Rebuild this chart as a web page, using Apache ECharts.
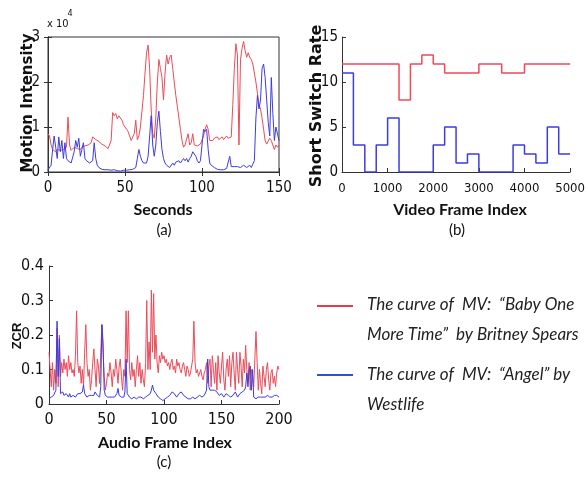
<!DOCTYPE html>
<html>
<head>
<meta charset="utf-8">
<script src="https://cdn.jsdelivr.net/npm/echarts@6/dist/echarts.min.js"></script>
<style>
  html, body { margin: 0; padding: 0; background: #fff; }
  #chart { width: 588px; height: 477px; }
</style>
</head>
<body>
<div id="chart"></div>
<script>
// (a) motion intensity, x 10^4, one value per second 0..150
var motionRed = [
  .85,.80,.60,.50,.48,.45,.50,.46,.48,.45,
  .50,.47,.55,1.22,.60,.48,.50,.55,.58,.52,
  .55,.50,.55,.52,.58,.55,.60,.58,.65,.78,
  .80,.72,.70,.68,.65,.62,.60,.58,.55,.52,
  .50,.70,1.32,1.25,1.30,1.18,1.25,1.22,1.15,1.05,
  1.00,.95,.90,.80,.70,.68,.85,1.15,.72,.80,
  1.00,1.35,1.70,2.20,2.65,2.82,2.30,1.40,.85,.75,
  1.20,2.00,2.50,2.30,2.10,1.60,2.20,2.60,2.40,2.55,
  2.60,2.30,2.00,1.70,1.45,1.20,.95,.70,.55,.60,
  .62,.85,.60,.65,.85,.60,.62,.58,.60,.62,
  .60,.80,.95,1.05,.95,.70,.68,.70,.75,.72,
  .78,.72,.75,.78,.72,.75,.80,.75,.72,.78,
  1.50,2.30,2.85,2.60,.60,2.50,2.75,2.90,2.70,2.55,
  2.65,2.55,2.50,2.40,2.20,2.00,1.75,1.50,1.40,1.20,
  .95,.70,.62,.65,.75,.70,.60,.50,.60,.55,
  .60
];
var motionBlue = [
  .05,.05,.15,.50,.80,.55,.30,.78,.45,.70,
  .30,.65,.30,.25,.22,.20,.22,.45,.70,.55,
  .75,.35,.50,.65,.30,.25,.22,.20,.18,.25,
  .65,.30,.15,.10,.08,.06,.05,.05,.04,.05,
  .05,.04,.05,.05,.04,.03,.02,.02,.03,.04,
  .05,.04,.05,.05,.06,.06,.08,.10,.30,.50,
  .35,.25,.20,.18,.20,.35,.80,1.25,.60,.35,
  .60,1.10,1.35,.90,.50,.30,.20,.15,.12,.10,
  .12,.20,.15,.22,.18,.25,.20,.25,.30,.25,
  .30,.22,.30,.35,.45,.42,.35,.25,.20,.25,
  .60,.95,.90,.95,.50,.20,.15,.12,.10,.08,
  .06,.05,.05,.06,.05,.06,.08,.10,.35,.12,
  .10,.12,.10,.12,.12,.10,.12,.15,.12,.10,
  .12,.15,.10,.08,.25,1.20,1.70,1.40,1.60,2.30,
  2.40,2.10,1.60,1.10,.80,2.10,1.30,.70,1.00,1.00,
  .70
];

// (b) short switch rate, steps start at these frame indices
var switchFrames = [0,250,500,750,1000,1250,1500,1750,2000,2250,2500,2750,3000,3250,3500,3750,4000,4250,4500,4750,5000];
var switchRed  = [12,12,12,12,12,8,12,13,12,11,11,11,12,12,11,11,12,12,12,12,12];
var switchBlue = [11,3,0,3,6,0,0,0,3,5,1,2,0,0,0,3,2,1,5,2,2];

// (c) ZCR, one value per audio frame 0..200
var zcrRed = [
  .15,.10,.05,.12,.04,.10,.06,.22,.05,.20,
  .08,.12,.09,.13,.10,.12,.08,.14,.10,.12,
  .09,.10,.08,.14,.27,.12,.09,.11,.06,.10,
  .05,.15,.23,.12,.08,.10,.04,.07,.12,.16,
  .10,.05,.13,.11,.06,.15,.23,.15,.08,.04,
  .06,.09,.08,.12,.09,.05,.10,.08,.13,.10,
  .06,.11,.13,.08,.04,.10,.08,.27,.12,.27,
  .10,.07,.12,.08,.10,.05,.10,.14,.08,.12,
  .06,.10,.07,.05,.12,.30,.10,.18,.10,.33,
  .15,.32,.13,.20,.12,.09,.14,.12,.15,.13,
  .14,.12,.13,.11,.12,.10,.12,.13,.10,.11,
  .09,.13,.11,.12,.10,.09,.11,.12,.10,.08,
  .11,.10,.08,.09,.11,.13,.24,.12,.09,.10,
  .08,.09,.10,.08,.07,.09,.10,.12,.06,.11,
  .13,.05,.14,.10,.06,.12,.04,.14,.09,.06,
  .11,.15,.07,.04,.10,.13,.08,.14,.05,.12,
  .15,.09,.04,.15,.10,.06,.15,.11,.05,.13,
  .09,.17,.10,.06,.12,.04,.10,.08,.05,.13,
  .21,.12,.04,.10,.06,.03,.11,.08,.05,.10,
  .12,.07,.04,.09,.10,.06,.08,.05,.09,.11,
  .10
];
var zcrBlue = [
  .015,.015,.02,.02,.025,.02,.04,.24,.08,.19,
  .03,.025,.035,.025,.02,.03,.025,.02,.03,.02,
  .02,.025,.02,.02,.025,.03,.035,.03,.025,.035,
  .055,.03,.025,.02,.02,.025,.02,.025,.03,.025,
  .035,.03,.025,.02,.02,.05,.23,.18,.04,.025,
  .02,.02,.015,.02,.02,.02,.025,.02,.025,.03,
  .045,.025,.02,.02,.015,.02,.035,.13,.03,.025,
  .02,.02,.015,.015,.02,.015,.015,.02,.02,.015,
  .02,.02,.015,.015,.02,.02,.025,.025,.03,.04,
  .055,.04,.035,.03,.025,.02,.02,.015,.015,.01,
  .01,.015,.015,.02,.02,.025,.03,.035,.035,.03,
  .025,.02,.025,.03,.035,.035,.03,.025,.02,.02,
  .015,.015,.02,.015,.015,.02,.02,.015,.02,.02,
  .02,.025,.02,.02,.02,.025,.03,.04,.13,.05,
  .04,.045,.04,.035,.04,.04,.035,.03,.025,.03,
  .03,.025,.02,.025,.03,.03,.025,.02,.02,.025,
  .025,.03,.035,.03,.02,.025,.03,.03,.035,.04,
  .04,.05,.09,.05,.10,.11,.04,.10,.02,.02,
  .015,.015,.02,.02,.02,.02,.02,.025,.02,.02,
  .025,.025,.02,.02,.02,.02,.025,.03,.025,.025,
  .02
];

var RED = '#ee4a58';
var BLUE = '#3c3ce0';
var AXIS = '#333';
var TICK_FONT = "'DejaVu Sans Condensed', 'Liberation Sans', sans-serif";
var TITLE_FONT = "Lato, 'Liberation Sans', sans-serif";

function indexed(arr) {
  return arr.map(function (v, i) { return [i, v]; });
}
function paired(xs, ys) {
  return xs.map(function (x, i) { return [x, ys[i]]; });
}
function plain(v) { return String(v); }
function axisBase(extra) {
  var a = {
    type: 'value',
    axisLine: { show: true, lineStyle: { color: AXIS, width: 1 } },
    axisTick: { show: true, inside: true, length: 4, lineStyle: { color: AXIS } },
    splitLine: { show: false }
  };
  for (var k in extra) a[k] = extra[k];
  return a;
}
function label(size, margin) {
  return { color: '#111', fontFamily: TICK_FONT, fontSize: size, margin: margin, formatter: plain };
}
function txt(x, y, text, font, opts) {
  var o = {
    type: 'text', x: x, y: y, silent: true,
    style: { text: text, font: font, fill: '#111', align: 'center', verticalAlign: 'middle' }
  };
  if (opts) for (var k in opts) o[k] = opts[k];
  return o;
}
function legendText(y, text) {
  return { type: 'text', silent: true, x: 367, y: y,
    style: { text: text, font: 'italic 17px ' + TITLE_FONT, fill: '#222', verticalAlign: 'middle' } };
}

var chart = echarts.init(document.getElementById('chart'));
chart.setOption({
  animation: false,
  backgroundColor: '#fff',
  grid: [
    { left: 48, top: 37, width: 231, height: 135, show: true, borderColor: AXIS, borderWidth: 1 },
    { left: 342, top: 37, width: 235, height: 135 },
    { left: 49, top: 266, width: 230, height: 138 }
  ],
  xAxis: [
    axisBase({ gridIndex: 0, min: 0, max: 150, interval: 50, axisLabel: label(15, 9) }),
    axisBase({ gridIndex: 1, min: 0, max: 5000, interval: 1000, axisLabel: label(13, 10) }),
    axisBase({ gridIndex: 2, min: 0, max: 200, interval: 50, axisLabel: label(16, 8) }),
    axisBase({ gridIndex: 0, min: 0, max: 150, interval: 50, position: 'top', axisLabel: { show: false } })
  ],
  yAxis: [
    axisBase({ gridIndex: 0, min: 0, max: 3, interval: 1, axisLabel: label(15, 8) }),
    axisBase({ gridIndex: 1, min: 0, max: 15, interval: 5, axisLabel: label(15, 4) }),
    axisBase({ gridIndex: 2, min: 0, max: 0.4, interval: 0.1, axisLabel: label(16, 5) }),
    axisBase({ gridIndex: 0, min: 0, max: 3, interval: 1, position: 'right', axisLabel: { show: false } })
  ],
  series: [
    { type: 'line', xAxisIndex: 0, yAxisIndex: 0, data: indexed(motionRed), symbol: 'none', lineStyle: { color: RED, width: 1 } },
    { type: 'line', xAxisIndex: 0, yAxisIndex: 0, data: indexed(motionBlue), symbol: 'none', lineStyle: { color: BLUE, width: 1 } },
    { type: 'line', xAxisIndex: 1, yAxisIndex: 1, step: 'end', data: paired(switchFrames, switchRed), symbol: 'none', lineStyle: { color: RED, width: 1.5 } },
    { type: 'line', xAxisIndex: 1, yAxisIndex: 1, step: 'end', data: paired(switchFrames, switchBlue), symbol: 'none', lineStyle: { color: BLUE, width: 1.5 } },
    { type: 'line', xAxisIndex: 2, yAxisIndex: 2, data: indexed(zcrRed), symbol: 'none', lineStyle: { color: RED, width: 1 } },
    { type: 'line', xAxisIndex: 2, yAxisIndex: 2, data: indexed(zcrBlue), symbol: 'none', lineStyle: { color: BLUE, width: 1 } }
  ],
  graphic: [
    { type: 'text', silent: true, x: 47, y: 24, style: { text: 'x 10', font: '11px ' + TICK_FONT, fill: '#111', verticalAlign: 'middle' } },
    txt(70, 14, '4', '9px ' + TICK_FONT),
    txt(28, 103, 'Motion Intensity', 'bold 15px DejaVu Sans', { rotation: Math.PI / 2 }),
    txt(163, 210, 'Seconds', 'bold 16px ' + TITLE_FONT),
    txt(164, 230, '(a)', '15px ' + TITLE_FONT),
    txt(317, 106, 'Short Switch Rate', 'bold 16px DejaVu Sans', { rotation: Math.PI / 2 }),
    txt(460, 210, 'Video Frame Index', 'bold 16px ' + TITLE_FONT),
    txt(457, 230, '(b)', '15px ' + TITLE_FONT),
    txt(17, 336, 'ZCR', 'bold 13px Liberation Sans', { rotation: Math.PI / 2 }),
    txt(165, 443, 'Audio Frame Index', 'bold 16px ' + TITLE_FONT),
    txt(164, 462, '(c)', '15px ' + TITLE_FONT),
    { type: 'line', silent: true, shape: { x1: 317, y1: 306, x2: 353, y2: 306 }, style: { stroke: '#e63c48', lineWidth: 2 } },
    { type: 'line', silent: true, shape: { x1: 317, y1: 375, x2: 353, y2: 375 }, style: { stroke: '#3450c8', lineWidth: 2 } },
    legendText(305, 'The curve of  MV:  \u201cBaby One'),
    legendText(335, 'More Time\u201d  by Britney Spears'),
    legendText(375, 'The curve of  MV:  \u201cAngel\u201d by'),
    legendText(405, 'Westlife')
  ]
});
</script>
</body>
</html>
